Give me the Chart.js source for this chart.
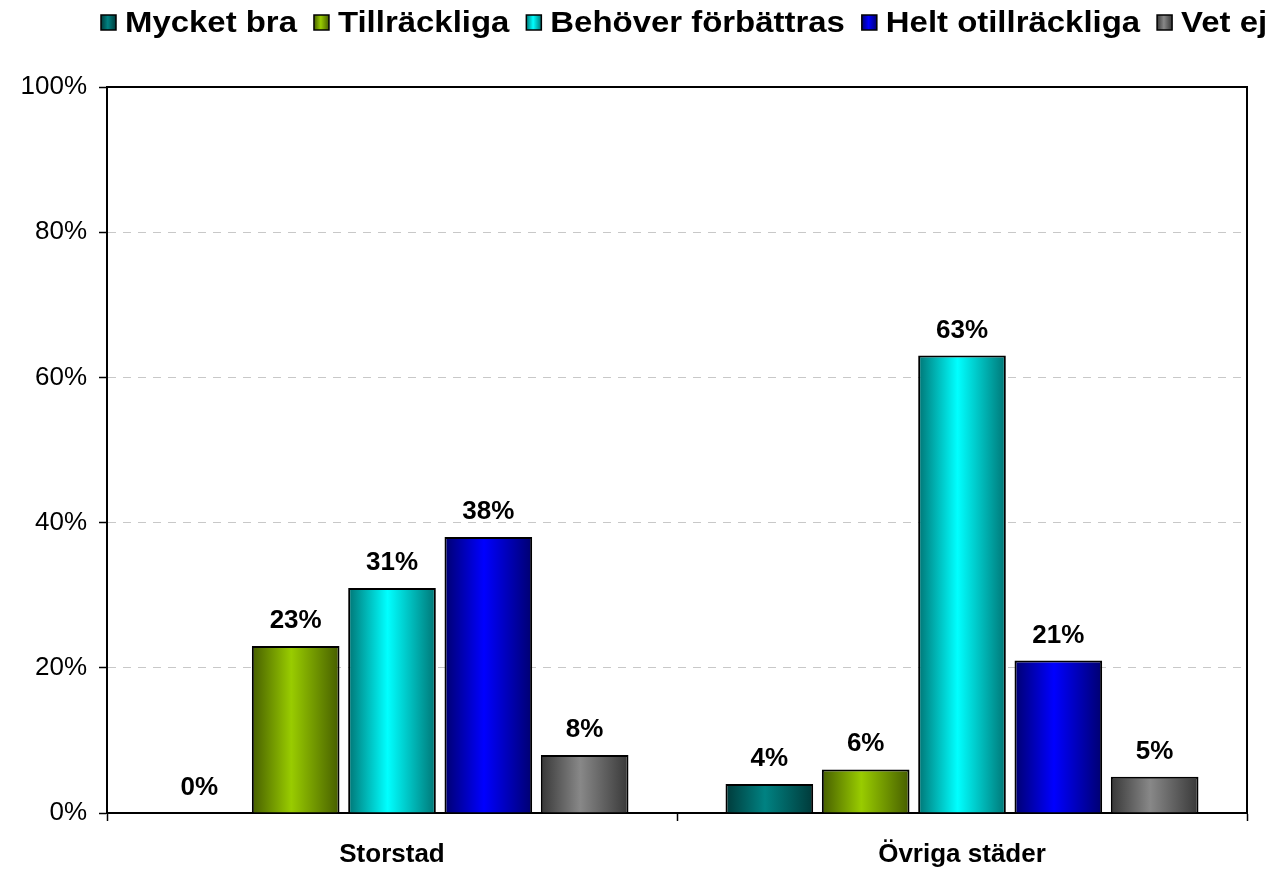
<!DOCTYPE html>
<html>
<head>
<meta charset="utf-8">
<script src="https://cdn.jsdelivr.net/npm/chart.js@4/dist/chart.umd.min.js"></script>
<style>
  html, body { margin: 0; padding: 0; background: #fff; }
  #wrap { width: 1284px; height: 869px; position: relative; }
</style>
</head>
<body>
<div id="wrap"><canvas id="c" width="1284" height="869"></canvas></div>
<script>
const categories = ['Storstad', 'Övriga städer'];
const seriesNames = ['Mycket bra', 'Tillräckliga', 'Behöver förbättras', 'Helt otillräckliga', 'Vet ej'];
const mycketBra = [0, 4];
const tillrackliga = [23, 6];
const behoverForbattras = [31, 63];
const heltOtillrackliga = [38, 21];
const vetEj = [8, 5];
const yTicks = [0, 20, 40, 60, 80, 100];

const seriesValues = [mycketBra, tillrackliga, behoverForbattras, heltOtillrackliga, vetEj];
// [center colour, edge colour]
const seriesColors = [
  ['#008282', '#003a3a'],
  ['#99cc00', '#465e00'],
  ['#00ffff', '#007676'],
  ['#0000ff', '#000070'],
  ['#888888', '#383838']
];
const FONT = '"Liberation Sans", Arial, Helvetica, sans-serif';

function makeGrad(ctx, left, width, pair) {
  const g = ctx.createLinearGradient(left, 0, left + width, 0);
  g.addColorStop(0, pair[1]);
  g.addColorStop(0.45, pair[0]);
  g.addColorStop(1, pair[1]);
  return g;
}

const gradientPlugin = {
  id: 'gradientBars',
  beforeDatasetsDraw(chart) {
    const ctx = chart.ctx;
    chart.data.datasets.forEach((ds, di) => {
      const meta = chart.getDatasetMeta(di);
      meta.data.forEach(el => {
        const w = el.width;
        const left = el.x - w / 2;
        el.options.backgroundColor = makeGrad(ctx, left, w, seriesColors[di]);
      });
    });
  }
};

const labelPlugin = {
  id: 'valueLabels',
  afterDatasetsDraw(chart) {
    const ctx = chart.ctx;
    ctx.save();
    ctx.font = 'bold 26px ' + FONT;
    ctx.fillStyle = '#000';
    ctx.textAlign = 'center';
    ctx.textBaseline = 'alphabetic';
    chart.data.datasets.forEach((ds, di) => {
      const meta = chart.getDatasetMeta(di);
      meta.data.forEach((el, i) => {
        ctx.fillText(ds.data[i] + '%', el.x, el.y - 18);
      });
    });
    ctx.restore();
  }
};

const framePlugin = {
  id: 'frame',
  afterDatasetsDraw(chart) {
    const {ctx, chartArea: a} = chart;
    ctx.save();
    ctx.strokeStyle = '#000';
    ctx.lineWidth = 2;
    ctx.beginPath();
    ctx.moveTo(a.left, a.top);
    ctx.lineTo(a.right, a.top);
    ctx.lineTo(a.right, a.bottom);
    ctx.stroke();
    ctx.restore();
  }
};

const legendPlugin = {
  id: 'customLegend',
  afterDraw(chart) {
    const ctx = chart.ctx;
    ctx.save();
    ctx.font = 'bold 29px ' + FONT;
    ctx.textBaseline = 'alphabetic';
    ctx.textAlign = 'left';
    const stretch = 1.135;
    let x = 101;
    const boxY = 15, box = 15;
    seriesNames.forEach((name, i) => {
      ctx.fillStyle = makeGrad(ctx, x, box, seriesColors[i]);
      ctx.fillRect(x, boxY, box, box);
      ctx.strokeStyle = '#000';
      ctx.lineWidth = 1.5;
      ctx.strokeRect(x, boxY, box, box);
      const tx = x + box + 9;
      const w = ctx.measureText(name).width * stretch;
      ctx.save();
      ctx.translate(tx, 32);
      ctx.scale(stretch, 1);
      ctx.fillStyle = '#000';
      ctx.fillText(name, 0, 0);
      ctx.restore();
      x = tx + w + 17;
    });
    ctx.restore();
  }
};

const datasets = seriesNames.map((name, i) => ({
  label: name,
  data: seriesValues[i],
  backgroundColor: () => seriesColors[i][0],
  borderColor: '#000',
  borderWidth: 2,
  categoryPercentage: 0.845,
  barPercentage: 0.91
}));

new Chart(document.getElementById('c'), {
  type: 'bar',
  data: { labels: categories, datasets },
  plugins: [gradientPlugin, labelPlugin, framePlugin, legendPlugin],
  options: {
    responsive: false,
    animation: false,
    devicePixelRatio: 1,
    layout: { padding: { top: 87, right: 37, left: 0, bottom: 0 } },
    plugins: {
      legend: { display: false },
      tooltip: { enabled: false }
    },
    scales: {
      x: {
        afterFit(scale) { scale.height = 56; },
        grid: {
          offset: true,
          drawOnChartArea: false,
          drawTicks: true,
          tickLength: 8,
          tickColor: '#000',
          tickWidth: 1.5
        },
        border: { display: true, color: '#000', width: 2 },
        ticks: {
          color: '#000',
          font: { family: FONT, size: 26, weight: 'bold' },
          padding: 18
        }
      },
      y: {
        min: 0,
        max: 100,
        afterFit(scale) { scale.width = 107; },
        afterBuildTicks(scale) { scale.ticks = yTicks.map(v => ({ value: v })); },
        grid: {
          color: (c) => (c.tick && (c.tick.value === 0 || c.tick.value === 100)) ? 'rgba(0,0,0,0)' : '#c8c8c8',
          lineWidth: 1,
          drawTicks: true,
          tickLength: 8,
          tickColor: '#000',
          tickWidth: 1.5
        },
        border: { display: true, color: '#000', width: 2, dash: [8, 7] },
        ticks: {
          color: '#000',
          font: { family: FONT, size: 26 },
          padding: 12,
          callback: (v) => v + '%'
        }
      }
    }
  }
});
</script>
</body>
</html>
